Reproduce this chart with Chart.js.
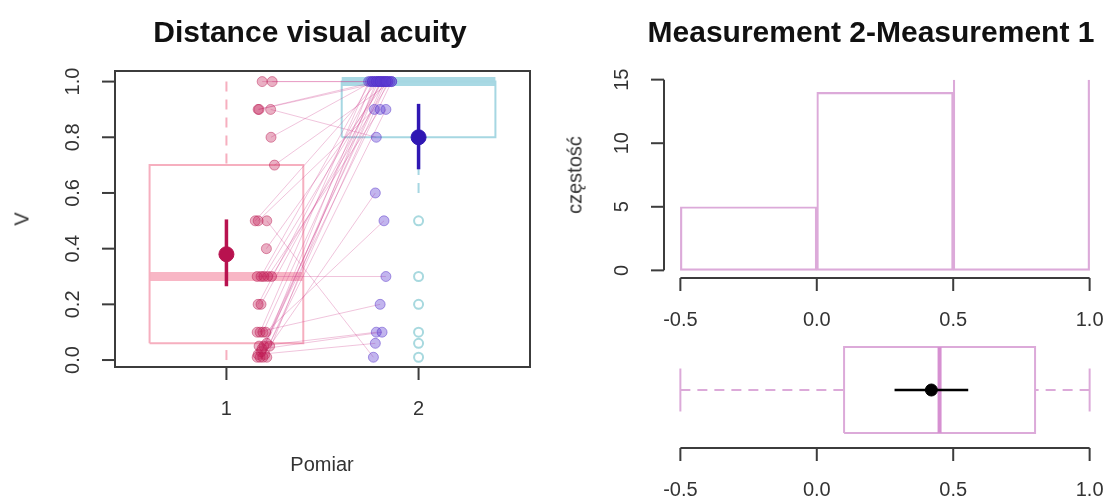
<!DOCTYPE html>
<html lang="pl">
<head>
  <meta charset="UTF-8" />
  <title>Distance visual acuity</title>
  <script src="https://cdn.jsdelivr.net/npm/chart.js"></script>
  <style>
    * { margin: 0; padding: 0; box-sizing: border-box; }
    body {
      width: 1107px; height: 501px; position: relative; overflow: hidden;
      background: #fff; font-family: 'Liberation Sans', Arial, sans-serif; color: #333;
    }
    canvas { position: absolute; top: 0; left: 0; }
    .lbl { position: absolute; white-space: nowrap; transform: translate(-50%, -50%); font-size: 20px; color: #333; }
    .title { font-size: 30px; font-weight: bold; color: #111; }
    .rot { transform: translate(-50%, -50%) rotate(-90deg); }
  </style>
</head>
<body>
  <canvas id="pairsChart" width="1107" height="501"></canvas>
  <canvas id="histChart" width="1107" height="501"></canvas>
  <canvas id="diffChart" width="1107" height="501"></canvas>

  <div class="lbl title" style="left:310px; top:32px;">Distance visual acuity</div>
  <div class="lbl title" style="left:871px; top:32px;">Measurement 2-Measurement 1</div>
  <div class="lbl rot" style="left:22px; top:219px;">V</div>
  <div class="lbl" style="left:322px; top:464px;">Pomiar</div>
  <div class="lbl rot" style="left:575px; top:175px;">częstość</div>

  <script>
    // values
    const pomiarLabels = ['1', '2'];
    const vTicks = [0, 0.2, 0.4, 0.6, 0.8, 1.0];
    const vTickLabels = ['0.0', '0.2', '0.4', '0.6', '0.8', '1.0'];

    // one entry per subject: measurement 1, measurement 2 and the jittered x of each dot
    const pomiar1 = [1.0, 1.0, 0.9, 0.9, 0.9, 0.8, 0.7, 0.5, 0.5, 0.5, 0.4, 0.3, 0.3, 0.3, 0.3, 0.3, 0.2,
      0.2, 0.1, 0.1, 0.1, 0.1, 0.05, 0.05, 0.05, 0.04, 0.02, 0.02, 0.01, 0.01, 0.01, 0.03, 0.06, 0.01];
    const pomiar2 = [1.0, 1.0, 1.0, 1.0, 0.8, 1.0, 1.0, 1.0, 0.9, 0.01, 1.0, 0.3, 1.0, 1.0, 0.9, 1.0, 1.0,
      1.0, 0.2, 1.0, 1.0, 0.5, 0.1, 1.0, 0.6, 0.1, 0.06, 1.0, 1.0, 0.9, 1.0, 1.0, 1.0, 1.0];
    const jitter1 = [1.186, 1.238, 1.165, 1.170, 1.230, 1.232, 1.250, 1.150, 1.165, 1.210, 1.208, 1.160,
      1.180, 1.195, 1.215, 1.235, 1.165, 1.180, 1.160, 1.175, 1.190, 1.205, 1.170, 1.195, 1.225, 1.185,
      1.165, 1.200, 1.175, 1.190, 1.210, 1.180, 1.210, 1.160];
    const jitter2 = [1.80, 1.84, 1.78, 1.82, 1.78, 1.76, 1.86, 1.79, 1.77, 1.765, 1.83, 1.83, 1.75, 1.81,
      1.80, 1.85, 1.77, 1.81, 1.80, 1.74, 1.79, 1.82, 1.78, 1.82, 1.775, 1.81, 1.775, 1.84, 1.76, 1.83,
      1.78, 1.86, 1.80, 1.83];

    // boxplots: [lower whisker, Q1, median, Q3, upper whisker]
    const box1 = [0.0, 0.06, 0.3, 0.7, 1.0];
    const box2 = [0.6, 0.8, 1.0, 1.0, 1.0];
    const outliers2 = [0.5, 0.3, 0.2, 0.1, 0.06, 0.01];
    // mean with interval: [mean, low, high]
    const mean1 = [0.38, 0.265, 0.505];
    const mean2 = [0.80, 0.685, 0.92];

    // differences panel
    const binEdges = [-0.5, 0, 0.5, 1.0];
    const binCounts = [5, 14, 15];
    const countTicks = [0, 5, 10, 15];
    const diffTicks = [-0.5, 0, 0.5, 1.0];
    const diffTickLabels = ['-0.5', '0.0', '0.5', '1.0'];
    const diffBox = [-0.5, 0.1, 0.45, 0.8, 1.0];
    const diffMean = [0.42, 0.285, 0.555];

    const PINK = '#f6afbf', PINK_BAND = '#f8b6c5';
    const CYAN = '#a6d7e2', CYAN_BAND = '#a9d9e4';
    const ORCHID = '#dcaad9', ORCHID_MED = '#d690d1';

    // R-like axes drawn from the chart scales
    const rAxes = {
      id: 'rAxes',
      afterDraw(chart, args, opts) {
        const { ctx, chartArea: a, scales } = chart;
        const seg = (x0, y0, x1, y1) => { ctx.beginPath(); ctx.moveTo(x0, y0); ctx.lineTo(x1, y1); ctx.stroke(); };
        ctx.save();
        ctx.strokeStyle = '#3c3c3c';
        ctx.lineWidth = 2;
        ctx.fillStyle = '#333';
        ctx.font = '20px "Liberation Sans", Arial, sans-serif';
        ctx.textAlign = 'center';
        ctx.textBaseline = 'middle';
        if (opts.frame) ctx.strokeRect(a.left, a.top, a.right - a.left, a.bottom - a.top);
        if (opts.x) {
          const px = opts.x.ticks.map(v => scales.x.getPixelForValue(v));
          const y0 = a.bottom;
          if (opts.x.line) seg(px[0], y0, px[px.length - 1], y0);
          px.forEach((p, i) => {
            seg(p, y0, p, y0 + 13);
            ctx.fillText(opts.x.labels[i], p, y0 + 42);
          });
        }
        if (opts.y) {
          const py = opts.y.ticks.map(v => scales.y.getPixelForValue(v));
          const x0 = a.left;
          if (opts.y.line) seg(x0, py[0], x0, py[py.length - 1]);
          py.forEach((p, i) => {
            seg(x0, p, x0 - 13, p);
            ctx.save();
            ctx.translate(x0 - 42, p);
            ctx.rotate(-Math.PI / 2);
            ctx.fillText(opts.y.labels[i], 0, 0);
            ctx.restore();
          });
        }
        ctx.restore();
      }
    };
    Chart.register(rAxes);

    function baseOptions(pad, xr, yr, axes) {
      return {
        responsive: false,
        animation: false,
        events: [],
        layout: { padding: pad, autoPadding: false },
        plugins: { legend: { display: false }, tooltip: { enabled: false }, rAxes: axes },
        scales: {
          x: { type: 'linear', display: false, offset: false, min: xr[0], max: xr[1] },
          y: { type: 'linear', display: false, min: yr[0], max: yr[1] }
        }
      };
    }

    function seg(data, color, width, order, dash) {
      return {
        type: 'line', data, borderColor: color, borderWidth: width, borderDash: dash || [],
        pointRadius: 0, fill: false, tension: 0, order
      };
    }

    function dots(data, fill, stroke, radius, order, bw) {
      return {
        type: 'line', data, showLine: false, pointRadius: radius, pointBackgroundColor: fill,
        pointBorderColor: stroke, pointBorderWidth: bw === undefined ? 1 : bw, order
      };
    }

    // vertical boxplot at xc
    function boxSets(xc, st, col, bandCol, order) {
      const [lo, q1, med, q3, hi] = st;
      const l = xc - 0.4, r = xc + 0.4;
      const sets = [
        seg([{ x: l, y: q1 }, { x: r, y: q1 }, { x: r, y: q3 }, { x: l, y: q3 }, { x: l, y: q1 }], col, 2, order),
        seg([{ x: l, y: med }, { x: r, y: med }], bandCol, 9, order)
      ];
      if (hi > q3) sets.push(seg([{ x: xc, y: hi }, { x: xc, y: q3 }], col, 2, order, [10, 8]));
      if (lo < q1) sets.push(seg([{ x: xc, y: lo }, { x: xc, y: q1 }], col, 2, order, [10, 8]));
      return sets;
    }

    // left panel
    const pairLine = [];
    pomiar1.forEach((v, i) => {
      pairLine.push({ x: jitter1[i], y: v }, { x: jitter2[i], y: pomiar2[i] }, { x: jitter2[i], y: null });
    });

    new Chart(document.getElementById('pairsChart'), {
      type: 'line',
      data: {
        datasets: [
          dots([{ x: 1, y: mean1[0] }], '#b8124f', '#b8124f', 7.5, 0),
          dots([{ x: 2, y: mean2[0] }], '#2f17b3', '#2f17b3', 7.5, 0),
          seg([{ x: 1, y: mean1[1] }, { x: 1, y: mean1[2] }], '#b8124f', 3.5, 1),
          seg([{ x: 2, y: mean2[1] }, { x: 2, y: mean2[2] }], '#2f17b3', 3.5, 1),
          dots(pomiar2.map((v, i) => ({ x: jitter2[i], y: v })), 'rgba(95,60,210,0.38)', 'rgba(80,45,200,0.45)', 5, 2),
          dots(pomiar1.map((v, i) => ({ x: jitter1[i], y: v })), 'rgba(195,30,85,0.35)', 'rgba(185,25,80,0.45)', 5, 3),
          dots(outliers2.map(v => ({ x: 2, y: v })), 'rgba(0,0,0,0)', '#a8d9df', 4.5, 4, 2),
          { ...seg(pairLine, 'rgba(205,60,140,0.3)', 1, 5), spanGaps: false },
          ...boxSets(1, box1, PINK, PINK_BAND, 6),
          ...boxSets(2, box2, CYAN, CYAN_BAND, 6)
        ]
      },
      options: baseOptions({ left: 115, top: 71, right: 577, bottom: 134 }, [0.42, 2.58], [-0.025, 1.038], {
        frame: true,
        x: { ticks: [1, 2], labels: pomiarLabels },
        y: { ticks: vTicks, labels: vTickLabels }
      })
    });

    // histogram of differences
    const binCenters = binCounts.map((c, i) => (binEdges[i] + binEdges[i + 1]) / 2);
    new Chart(document.getElementById('histChart'), {
      type: 'bar',
      data: {
        datasets: [{
          data: binCounts.map((c, i) => ({ x: binCenters[i], y: c })),
          backgroundColor: 'rgba(255,255,255,0)',
          borderColor: ORCHID,
          borderWidth: 1.5,
          borderSkipped: [false, false, 'top'],
          barThickness: 'flex',
          categoryPercentage: 1,
          barPercentage: 1
        }]
      },
      options: baseOptions({ left: 664, top: 72, right: 1, bottom: 223 }, [-0.56, 1.06], [-0.6, 15.6], {
        x: { ticks: diffTicks, labels: diffTickLabels, line: true },
        y: { ticks: countTicks, labels: countTicks.map(String), line: true }
      })
    });

    // horizontal boxplot of differences
    const [dLo, dQ1, dMed, dQ3, dHi] = diffBox;
    new Chart(document.getElementById('diffChart'), {
      type: 'line',
      data: {
        datasets: [
          dots([{ x: diffMean[0], y: 1 }], '#000', '#000', 6, 0),
          seg([{ x: diffMean[1], y: 1 }, { x: diffMean[2], y: 1 }], '#000', 2.5, 1),
          seg([{ x: dMed, y: 0.6 }, { x: dMed, y: 1.4 }], ORCHID_MED, 4, 2),
          seg([{ x: dQ1, y: 0.6 }, { x: dQ3, y: 0.6 }, { x: dQ3, y: 1.4 }, { x: dQ1, y: 1.4 }, { x: dQ1, y: 0.6 }], ORCHID, 2, 3),
          seg([{ x: dLo, y: 1 }, { x: dQ1, y: 1 }], ORCHID, 2, 3, [10, 7]),
          seg([{ x: dHi, y: 1 }, { x: dQ3, y: 1 }], ORCHID, 2, 3, [10, 7]),
          seg([{ x: dLo, y: 0.8 }, { x: dLo, y: 1.2 }], ORCHID, 2, 3),
          seg([{ x: dHi, y: 0.8 }, { x: dHi, y: 1.2 }], ORCHID, 2, 3)
        ]
      },
      options: baseOptions({ left: 664, top: 332, right: 1, bottom: 53 }, [-0.56, 1.06], [0.46, 1.54], {
        x: { ticks: diffTicks, labels: diffTickLabels, line: true }
      })
    });
  </script>
</body>
</html>
